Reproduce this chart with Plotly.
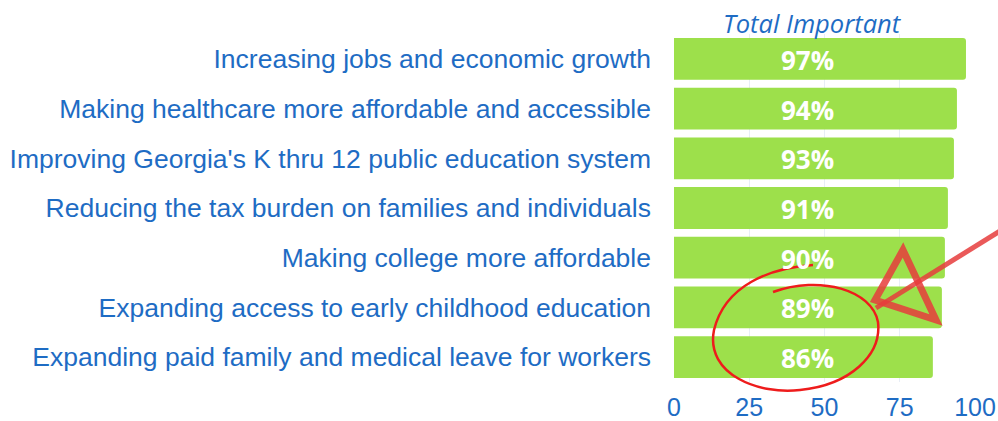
import plotly.graph_objects as go

categories = [
    "Increasing jobs and economic growth",
    "Making healthcare more affordable and accessible",
    "Improving Georgia's K thru 12 public education system",
    "Reducing the tax burden on families and individuals",
    "Making college more affordable",
    "Expanding access to early childhood education",
    "Expanding paid family and medical leave for workers",
]
values = [97, 94, 93, 91, 90, 89, 86]
labels = [f"{v}%" for v in values]
tick_vals = [0, 25, 50, 75, 100]
LABEL_X = 44.5  # fixed horizontal position of the value labels

W, H = 998, 421
L, R, T, B = 674, 23, 34, 39
PW, PH = W - L - R, H - T - B

def px(x):
    return (x - L) / PW

def py(y):
    return (H - B - y) / PH

BLUE = "#1e6cc4"
GREEN = "#9de04b"

fig = go.Figure()
fig.add_trace(go.Bar(
    x=values, y=categories, orientation="h",
    marker=dict(color=GREEN, cornerradius=3, line=dict(width=0)),
    hoverinfo="skip",
))
for cat, lab in zip(categories, labels):
    fig.add_annotation(x=LABEL_X, y=cat, xref="x", yref="y", text=lab, showarrow=False,
                       xanchor="center", yanchor="middle", yshift=-1,
                       font=dict(family="Open Sans", size=26, color="white", weight="bold"))

fig.update_layout(
    width=W, height=H,
    margin=dict(l=L, r=R, t=T, b=B, autoexpand=False),
    paper_bgcolor="white", plot_bgcolor="white",
    bargap=0.16, showlegend=False,
    xaxis=dict(range=[0, 100], tickvals=tick_vals, showgrid=True,
               gridcolor="#e8eef6", gridwidth=1, zeroline=False,
               tickfont=dict(family="Liberation Sans", size=25, color=BLUE),
               ticklabelstandoff=8,
               showline=False, automargin=False),
    yaxis=dict(autorange="reversed", showgrid=False,
               tickfont=dict(family="Liberation Sans", size=26.5, color=BLUE),
               ticklabelstandoff=22, showline=False, automargin=False),
)

fig.add_annotation(text="<i>Total Important</i>", x=px(812), y=py(23), xref="paper", yref="paper",
                   showarrow=False, font=dict(family="Open Sans", size=25.5, color=BLUE),
                   xanchor="center", yanchor="middle")

# Hand-drawn red circle
def P(x, y):
    return f"{px(x):.4f},{py(y):.4f}"

circle = (f"M {P(813,265)} C {P(770,268)} {P(725,285)} {P(714,330)} "
          f"C {P(705,375)} {P(760,395)} {P(800,390)} "
          f"C {P(850,385)} {P(882,355)} {P(878,322)} "
          f"C {P(872,290)} {P(820,275)} {P(773,292)}")
fig.add_shape(type="path", path=circle, xref="paper", yref="paper",
              line=dict(color="#ee1c1c", width=2.5))

# Arrow
fig.add_shape(type="line", xref="paper", yref="paper",
              x0=px(1000), y0=py(231), x1=px(876), y1=py(308),
              line=dict(color="rgba(230,60,60,0.85)", width=5))
tri = f"M {P(903,250)} L {P(936,320)} L {P(875,300)} Z"
fig.add_shape(type="path", path=tri, xref="paper", yref="paper",
              line=dict(color="rgba(230,60,60,0.85)", width=7))

fig.write_html("out.html", config={"displayModeBar": False},
               post_script="document.body.style.margin='0';document.body.style.overflow='hidden';")
